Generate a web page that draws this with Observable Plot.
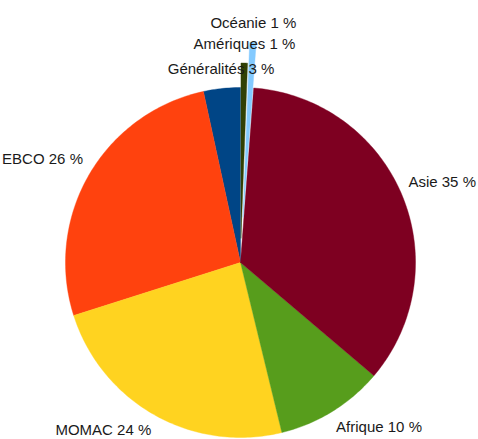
<!DOCTYPE html>
<html><head><meta charset="utf-8">
<script src="https://cdn.jsdelivr.net/npm/d3@7"></script>
<script src="https://cdn.jsdelivr.net/npm/@observablehq/plot@0.6"></script>
<style>html,body{margin:0;padding:0;background:#fff}</style>
</head><body><div id="chart"></div>
<script>
// ---- data ----
const categories = ["Généralités", "EBCO", "MOMAC", "Afrique", "Asie", "Océanie", "Amériques"];
const shares = [3.4, 26.5, 23.9, 10.0, 35.0, 0.6, 0.6];
const labelPercents = [3, 26, 24, 10, 35, 1, 1];
const colors = ["#004586", "#ff420e", "#ffd320", "#579d1c", "#7e0021", "#83caff", "#314004"];

// ---- layout ----
const W = 478, H = 439, cx = 240, cy = 262, R = 175, gapX = 7;
const explode = {"Océanie": 0.26, "Amériques": 0.14};
const FONT = "'Liberation Sans', Arial, sans-serif";

const data = categories.map((c, i) => ({name: c, value: shares[i], pct: labelPercents[i], color: colors[i]}));
const arcs = d3.pie().sort(null).value(d => d.value).startAngle(0).endAngle(-2 * Math.PI)(data);

const slices = arcs.map(a => {
  const off = (explode[a.data.name] || 0) * R;
  const mid = (a.startAngle + a.endAngle) / 2;
  const ox = cx + off * Math.sin(mid), oy = cy - off * Math.cos(mid);
  const n = Math.max(2, Math.ceil(Math.abs(a.endAngle - a.startAngle) * 60));
  const pts = [{x: ox, y: oy}];
  for (let k = 0; k <= n; k++) {
    const t = a.startAngle + (a.endAngle - a.startAngle) * k / n;
    pts.push({x: ox + R * Math.sin(t), y: oy - R * Math.cos(t)});
  }
  pts.push({x: ox, y: oy});
  const s = Math.sin(mid), c = Math.cos(mid);
  const gapY = c > 0 ? 14 + 8 * Math.abs(s) : 8 + 6 * Math.abs(s);
  return {
    name: a.data.name, color: a.data.color, pts,
    label: {
      x: cx + (R + off + gapX) * s, y: cy - (R + off + gapY) * c,
      text: `${a.data.name} ${a.data.pct} %`,
      h: s > 0.2 ? "start" : s < -0.2 ? "end" : "middle",
      v: c > 0 ? "bottom" : "top"
    }
  };
});

const labels = slices.map(s => s.label);
const textMarks = [];
for (const h of ["start", "middle", "end"]) for (const v of ["top", "bottom"]) {
  const sub = labels.filter(l => l.h === h && l.v === v);
  if (sub.length) textMarks.push(Plot.text(sub, {
    x: "x", y: "y", text: "text", textAnchor: h, lineAnchor: v,
    fill: "#1a1a1a", fontSize: 15, fontFamily: FONT
  }));
}

const chart = Plot.plot({
  width: W, height: H, margin: 0,
  x: {domain: [0, W], range: [0, W], axis: null},
  y: {domain: [0, H], range: [0, H], axis: null},
  style: {background: "#fff", fontFamily: FONT},
  marks: [
    ...slices.map(s => Plot.line(s.pts, {x: "x", y: "y", fill: s.color, stroke: s.color, strokeWidth: 0.4, curve: "linear"})),
    ...textMarks
  ]
});
document.getElementById("chart").appendChild(chart);
</script>
</body></html>
